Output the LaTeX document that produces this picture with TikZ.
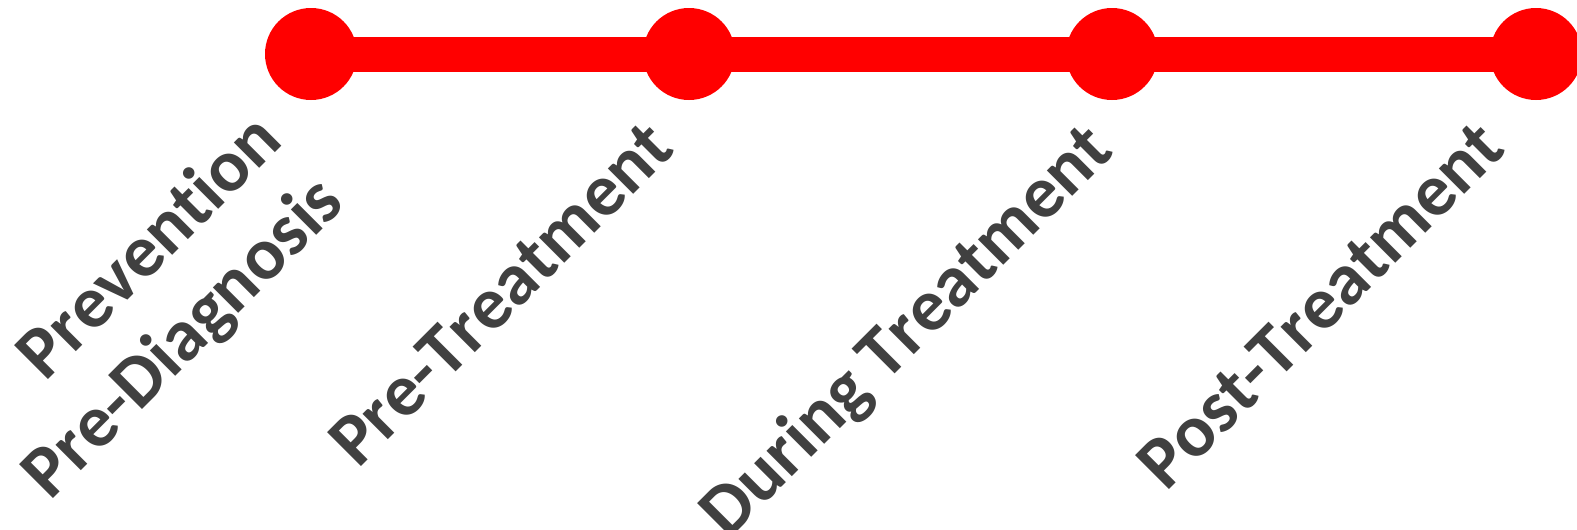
\documentclass[tikz,border=0pt]{standalone}
\usepackage{fontspec}
\setmainfont[Ligatures=NoCommon,Kerning=Off]{Carlito}
\definecolor{lbl}{HTML}{404040}
\definecolor{tlred}{HTML}{FF0000}
\begin{document}
\begin{tikzpicture}[x=1pt,y=-1pt,
  dot/.style={circle,fill=tlred,draw=none,minimum size=92pt,inner sep=0pt},
  lab/.style={rotate=45,anchor=base east,inner sep=0pt,text=lbl,font=\fontsize{74}{90}\selectfont\bfseries}]
\useasboundingbox (0,0) rectangle (1577,530);
\coordinate (p1) at (311,54);
\coordinate (p4) at (1536,54);
\draw[tlred,line width=35pt] (p1) -- (p4);
\node[dot] (d1) at (311,54) {};
\node[dot] (d2) at (689,54) {};
\node[dot] (d3) at (1112,54) {};
\node[dot] (d4) at (1536,54) {};
\node[lab] (prev) at (285,143) {Prevention};
\node[lab] (prediag) at (347,205) {Pre-Diagnosis};
\node[lab] (pretreat) at (677,151) {Pre-Treatment};
\node[lab] (during) at (1116,153) {During Treatment};
\node[lab] (post) at (1508,151) {Post-Treatment};
\end{tikzpicture}
\end{document}
